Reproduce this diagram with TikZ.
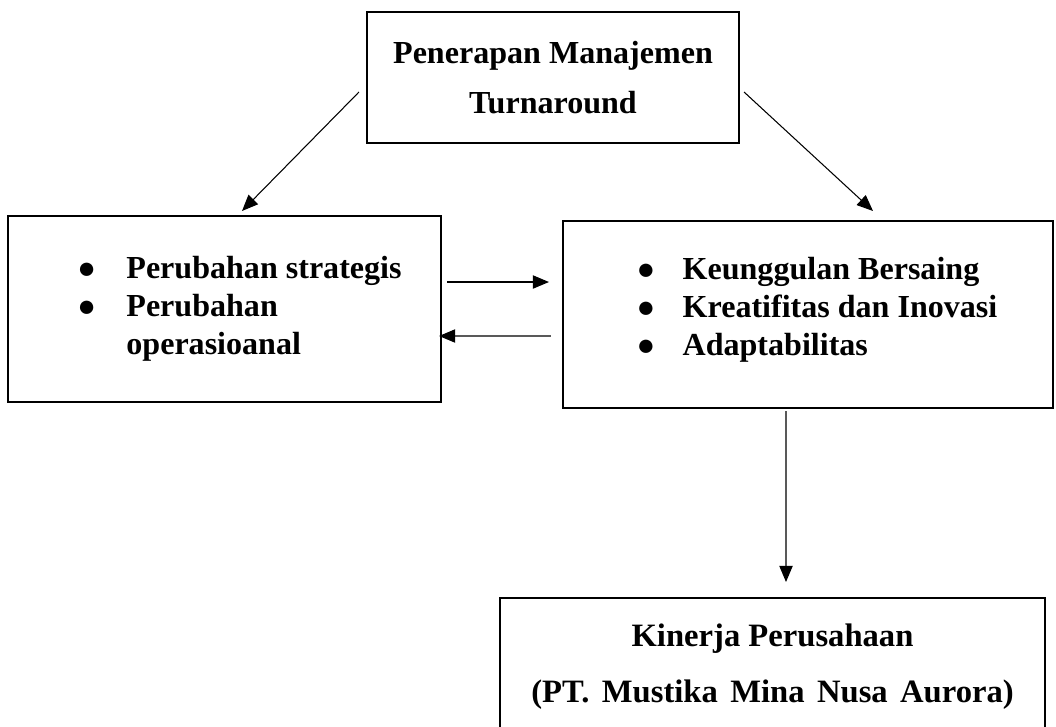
\documentclass[tikz,border=0pt]{standalone}
\usepackage{fontspec}
\setmainfont{Liberation Serif}
\usetikzlibrary{arrows.meta}

\newcommand{\poin}{{\fontsize{22}{22}\selectfont ●}}

\tikzset{
  kotak/.style={shape=rectangle,draw,line width=1.4pt,inner sep=0pt},
  panah/.style={-{Triangle[length=11.5pt,width=9.5pt]},line width=0.75pt},
  hurufA/.style={font=\bfseries\fontsize{22.8}{35.6}\selectfont},
  hurufB/.style={font=\bfseries\fontsize{22.8}{27}\selectfont},
  hurufC/.style={font=\bfseries\fontsize{23.2}{40}\selectfont},
}

\begin{document}
\begin{tikzpicture}[x=0.025cm,y=-0.025cm]
    \clip (0,0) rectangle (1056,726);
    % kotak-kotak
    \node[kotak,hurufA,align=center,minimum width=9.3cm,minimum height=3.275cm] (penerapan) at (553,77.5) {Penerapan Manajemen\\Turnaround};
    \node[kotak,hurufB,minimum width=10.825cm,minimum height=4.65cm] (perubahan) at (224.5,309) {\hspace*{0.75cm}\begin{tabular}{@{}p{1.225cm}@{}l@{}}
        \poin & Perubahan strategis\\
        \poin & Perubahan\\
              & operasioanal
    \end{tabular}};
    \node[kotak,hurufB,minimum width=12.25cm,minimum height=4.675cm] (keunggulan) at (808,314.5) {\hspace*{0.45cm}\begin{tabular}{@{}p{1.15cm}@{}l@{}}
        \poin & Keunggulan Bersaing\\
        \poin & Kreatifitas dan Inovasi\\
        \poin & Adaptabilitas\\[0.25cm]
    \end{tabular}};
    \node[kotak,hurufC,minimum width=13.625cm,minimum height=3.55cm] (kinerja) at (772.5,669) {\begin{tabular}{@{}c@{}}
        Kinerja Perusahaan\\
        \spaceskip=0.38em\relax (PT. Mustika Mina Nusa Aurora)\\[0.3cm]
    \end{tabular}};
    % panah
    \draw[panah] ([shift={(-7,14.5)}]penerapan.west) -- ([shift={(17.5,-4)}]perubahan.north);
    \draw[panah] ([shift={(4,14.5)}]penerapan.east) -- ([shift={(65,-9)}]keunggulan.north);
    \draw[panah] ([shift={(5,-27)}]perubahan.east) -- ([shift={(-13,-32.5)}]keunggulan.west);
    \draw[panah] ([shift={(-11,21.5)}]keunggulan.west) -- ([shift={(-3,27)}]perubahan.east);
    \draw[panah] ([shift={(-22,2)}]keunggulan.south) -- ([shift={(13.5,-15)}]kinerja.north);
\end{tikzpicture}
\end{document}
